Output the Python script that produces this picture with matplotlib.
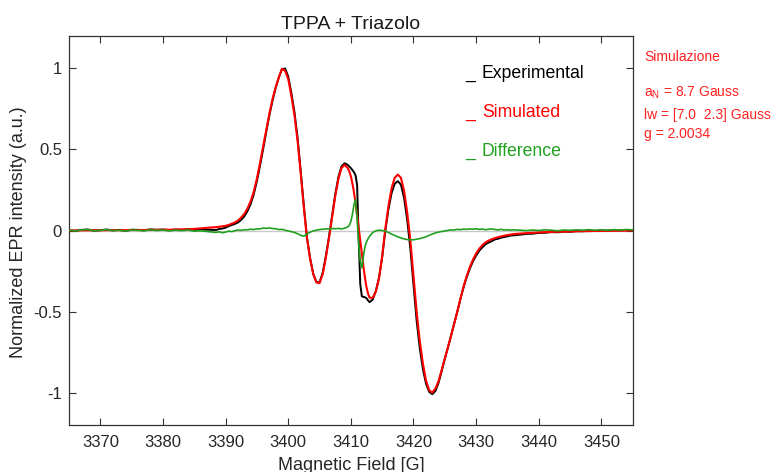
import matplotlib
matplotlib.use("Agg")
import matplotlib.pyplot as plt

plt.rcParams["font.family"] = ["Liberation Sans", "DejaVu Sans"]
plt.rcParams["mathtext.fontset"] = "custom"
plt.rcParams["mathtext.rm"] = "Liberation Sans"

# Magnetic field sweep [G]
field = [
    3365, 3366, 3367, 3368, 3369, 3370, 3371, 3372, 3373, 3374, 3375, 3376,
    3377, 3378, 3379, 3380, 3381, 3382, 3383, 3384, 3385, 3386, 3387, 3388,
    3388.5, 3389, 3389.5, 3390, 3390.5, 3391, 3391.5, 3392, 3392.5, 3393,
    3393.5, 3394, 3394.5, 3395, 3395.5, 3396, 3396.5, 3397, 3397.5, 3398,
    3398.5, 3399, 3399.5, 3400, 3400.5, 3401, 3401.5, 3402, 3402.5, 3403,
    3403.5, 3404, 3404.5, 3405, 3405.5, 3406, 3406.5, 3407, 3407.5, 3408,
    3408.5, 3409, 3409.5,
    3409.75, 3410, 3410.25, 3410.5, 3410.75, 3411, 3411.25, 3411.5, 3411.75,
    3412, 3412.25, 3412.5, 3412.75, 3413,
    3413.5, 3414, 3414.5, 3415, 3415.5, 3416, 3416.5, 3417, 3417.5, 3418,
    3418.5, 3419, 3419.5, 3420, 3420.5, 3421, 3421.5, 3422, 3422.5, 3423,
    3423.5, 3424, 3424.5, 3425, 3425.5, 3426, 3426.5, 3427, 3427.5, 3428,
    3428.5, 3429, 3429.5, 3430, 3430.5, 3431, 3431.5, 3432, 3432.5, 3433,
    3433.5, 3434, 3434.5, 3435, 3435.5, 3436,
    3437, 3438, 3439, 3440, 3441, 3442, 3443, 3444, 3445, 3446, 3447, 3448,
    3449, 3450, 3451, 3452, 3453, 3454, 3455,
]

# Measured spectrum (normalized)
experimental = [
    0.001, -0.002, 0.004, 0.006, -0.001, 0.002, 0.006, 0.001, 0.004, -0.002, 0.005, 0.004,
    0.001, 0.007, 0.004, 0.006, 0.002, 0.006, 0.004, 0.008, 0.004, 0.007, 0.005, 0.004,
    0.003, 0.010, 0.012, 0.018, 0.027, 0.034, 0.041, 0.050, 0.066, 0.088,
    0.120, 0.163, 0.224, 0.304, 0.400, 0.503, 0.610, 0.712, 0.802, 0.880,
    0.944, 0.995, 1.000, 0.950, 0.850, 0.730, 0.570, 0.365, 0.150, -0.045,
    -0.172, -0.268, -0.318, -0.319, -0.262, -0.160, -0.041, 0.092, 0.221, 0.328,
    0.395, 0.415, 0.405,
    0.395, 0.385, 0.372, 0.360, 0.340, 0.280, -0.050, -0.330, -0.405,
    -0.410, -0.412, -0.418, -0.432, -0.442,
    -0.425, -0.372, -0.290, -0.165, -0.002, 0.130, 0.230, 0.288, 0.305, 0.282,
    0.200, 0.065, -0.112, -0.335, -0.555, -0.725, -0.855, -0.945, -0.995, -1.010,
    -0.990, -0.940, -0.868, -0.793, -0.722, -0.648, -0.575, -0.500, -0.422, -0.350,
    -0.288, -0.235, -0.190, -0.155, -0.125, -0.104, -0.085, -0.074, -0.066, -0.055,
    -0.051, -0.044, -0.040, -0.036, -0.031, -0.030,
    -0.026, -0.021, -0.020, -0.015, -0.014, -0.010, -0.011, -0.007, -0.008, -0.004, -0.005, -0.002,
    -0.003, 0.000, -0.001, 0.002, 0.000, 0.003, 0.002,
]

# Simulated spectrum (normalized)
simulated = [
    0.000, 0.000, 0.001, 0.001, 0.001, 0.001, 0.002, 0.002, 0.002, 0.002, 0.003, 0.003,
    0.003, 0.004, 0.004, 0.005, 0.005, 0.006, 0.007, 0.008, 0.010, 0.013, 0.016, 0.019,
    0.021, 0.023, 0.026, 0.029, 0.034, 0.042, 0.050, 0.062, 0.080, 0.103,
    0.136, 0.180, 0.240, 0.320, 0.418, 0.520, 0.625, 0.723, 0.812, 0.885,
    0.945, 0.998, 0.985, 0.935, 0.830, 0.710, 0.550, 0.350, 0.140, -0.050,
    -0.175, -0.270, -0.320, -0.325, -0.270, -0.170, -0.050, 0.080, 0.210, 0.315,
    0.385, 0.405, 0.385,
    0.365, 0.335, 0.290, 0.235, 0.170, 0.095, 0.020, -0.060, -0.140,
    -0.220, -0.290, -0.350, -0.390, -0.415,
    -0.415, -0.375, -0.295, -0.160, 0.010, 0.150, 0.260, 0.325, 0.345, 0.325,
    0.245, 0.110, -0.060, -0.280, -0.500, -0.680, -0.820, -0.925, -0.985, -1.000,
    -0.975, -0.930, -0.860, -0.790, -0.720, -0.650, -0.575, -0.500, -0.420, -0.345,
    -0.280, -0.225, -0.180, -0.142, -0.113, -0.090, -0.073, -0.062, -0.054, -0.047,
    -0.041, -0.036, -0.032, -0.028, -0.025, -0.022,
    -0.019, -0.016, -0.014, -0.012, -0.010, -0.009, -0.008, -0.007, -0.006, -0.005, -0.004, -0.004,
    -0.003, -0.003, -0.002, -0.002, -0.001, -0.001, 0.000,
]

# Residual between measurement and simulation
difference = [
    0.002, -0.003, 0.004, 0.006, -0.002, 0.001, 0.005, -0.001, 0.002, -0.004, 0.003, 0.001,
    -0.002, 0.004, 0.000, 0.003, -0.003, 0.002, -0.001, 0.003, -0.004, -0.002, -0.006, -0.010,
    -0.012, -0.008, -0.014, -0.010, -0.004, -0.007, -0.001, 0.003, 0.001, 0.005,
    0.004, 0.008, 0.006, 0.010, 0.010, 0.015, 0.013, 0.016, 0.012, 0.011,
    0.006, 0.007, 0.002, -0.003, -0.007, -0.012, -0.020, -0.030, -0.035, -0.022,
    -0.010, -0.003, 0.002, 0.006, 0.008, 0.010, 0.009, 0.012, 0.011, 0.013,
    0.010, 0.014, 0.022,
    0.032, 0.055, 0.100, 0.160, 0.190, 0.070, -0.080, -0.190, -0.230,
    -0.160, -0.100, -0.070, -0.050, -0.035,
    -0.012, -0.002, 0.002, 0.000, -0.004, -0.012, -0.022, -0.031, -0.039, -0.046,
    -0.052, -0.056, -0.058, -0.057, -0.054, -0.050, -0.045, -0.038, -0.030, -0.022,
    -0.015, -0.010, -0.006, -0.003, 0.001, 0.004, 0.003, 0.007, 0.005, 0.009,
    0.007, 0.010, 0.008, 0.011, 0.007, 0.009, 0.005, 0.008, 0.010, 0.006,
    0.004, 0.007, 0.003, 0.005, 0.002, 0.004,
    0.002, -0.001, 0.003, 0.000, 0.004, 0.002, -0.002, 0.003, 0.001, 0.004, 0.002, 0.005,
    0.002, 0.004, 0.001, 0.005, 0.003, 0.006, 0.004,
]

x_ticks = [3370, 3380, 3390, 3400, 3410, 3420, 3430, 3440, 3450]
y_ticks = [-1, -0.5, 0, 0.5, 1]
y_tick_labels = ["-1", "-0.5", "0", "0.5", "1"]

series_names = ["Experimental", "Simulated", "Difference"]
series_colors = ["#000000", "#ff0000", "#1fa01f"]
sim_notes = ["Simulazione", r"a$_\mathregular{N}$ = 8.7 Gauss",
             "lw = [7.0  2.3] Gauss", "g = 2.0034"]

W, H = 774, 472
fig = plt.figure(figsize=(W / 100, H / 100), dpi=100)
ax = fig.add_axes([69 / W, 1 - 425 / H, (632.7 - 69) / W, (425 - 36) / H])

ax.axhline(0, color="#c8c8c8", lw=1.0, zorder=1)
ax.plot(field, experimental, color=series_colors[0], lw=1.4, zorder=2)
ax.plot(field, simulated, color=series_colors[1], lw=1.5, zorder=3)
ax.plot(field, difference, color=series_colors[2], lw=1.2, zorder=4)

ax.set_xlim(3365, 3455)
ax.set_ylim(-1.2, 1.2)
ax.set_xticks(x_ticks)
ax.set_xticklabels([str(t) for t in x_ticks])
ax.set_yticks(y_ticks)
ax.set_yticklabels(y_tick_labels)
ax.tick_params(direction="in", top=True, right=True, length=5, width=0.8,
               color="#333333", labelcolor="#262626", labelsize=12)
ax.tick_params(axis="x", pad=7)
ax.tick_params(axis="y", pad=5)
for sp in ax.spines.values():
    sp.set_color("#333333")
    sp.set_linewidth(0.9)


def px(x, y):
    return x / W, 1 - y / H


fig.text(*px(350.9, 29.3), "TPPA + Triazolo", ha="center", va="baseline",
         fontsize=14, color="#1a1a1a")
fig.text(*px(350.9, 469.5), "Magnetic Field [G]", ha="center", va="baseline",
         fontsize=13, color="#262626")
fig.text(*px(19, 232), "Normalized EPR intensity (a.u.)", ha="center",
         va="center", rotation=90, fontsize=13, color="#262626")

legend_baselines = [78.3, 117.3, 155.7]
for name, col, yb in zip(series_names, series_colors, legend_baselines):
    fig.text(*px(465, yb), "_", ha="left", va="baseline", fontsize=12.7, color=col)
    fig.text(*px(482, yb), name, ha="left", va="baseline", fontsize=12.7, color=col)

note_baselines = [61, 96.7, 119, 138.3]
for note, yb in zip(sim_notes, note_baselines):
    fig.text(*px(644, yb), note, ha="left", va="baseline", fontsize=10,
             color="#ff2020")

fig.savefig("out.png", dpi=100)
